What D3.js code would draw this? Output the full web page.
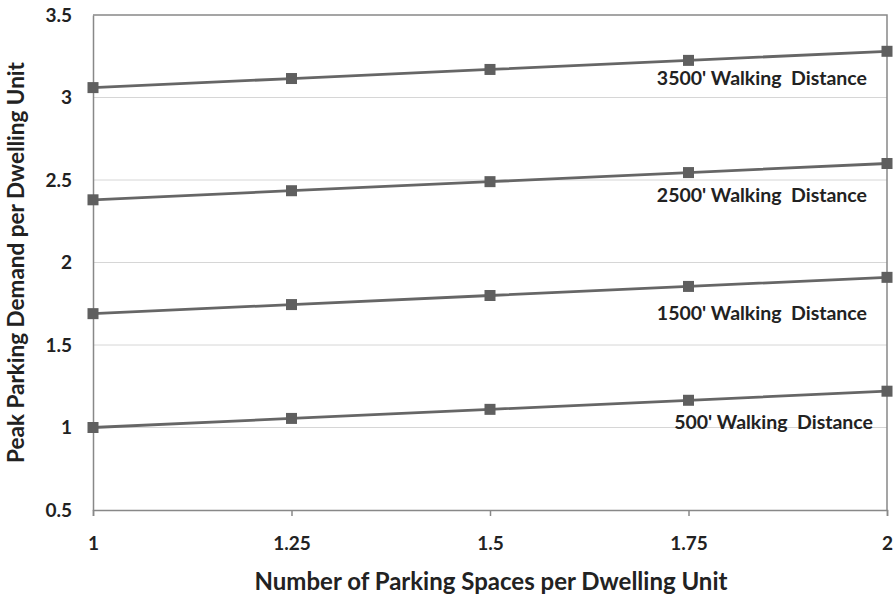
<!DOCTYPE html>
<html><head><meta charset="utf-8">
<script src="https://cdn.jsdelivr.net/npm/d3@7"></script>
<style>body{margin:0;background:#fff}svg text{font-family:Lato,"Open Sans",sans-serif;font-weight:bold;fill:#222}</style>
</head><body><svg id="c" width="896" height="597"></svg>
<script>
const xValues = [1, 1.25, 1.5, 1.75, 2];
const xTickLabels = ["1", "1.25", "1.5", "1.75", "2"];
const yTicks = [0.5, 1, 1.5, 2, 2.5, 3, 3.5];
const s3500 = [3.06, 3.115, 3.17, 3.225, 3.28];
const s2500 = [2.38, 2.435, 2.49, 2.545, 2.60];
const s1500 = [1.69, 1.745, 1.80, 1.855, 1.91];
const s500 = [1.00, 1.055, 1.11, 1.165, 1.22];
const seriesNames = ["3500' Walking  Distance", "2500' Walking  Distance", "1500' Walking  Distance", "500' Walking  Distance"];
const labelY = [3.118, 2.409, 1.694, 1.033];
const seriesData = [s3500, s2500, s1500, s500];

const svg = d3.select("#c");
const L = 93, R = 887, T = 15, B = 510;
const x = d3.scaleLinear().domain([1, 2]).range([L, R]);
const y = d3.scaleLinear().domain([0.5, 3.5]).range([B, T]);

// gridlines
svg.append("g").selectAll("line").data(yTicks.filter(d => d > 0.5 && d < 3.5)).join("line")
  .attr("x1", L).attr("x2", R).attr("y1", d => y(d)).attr("y2", d => y(d))
  .attr("stroke", "#d6d6d6").attr("stroke-width", 1);

// frame top/right
svg.append("path").attr("d", `M${L},${T}H${R}V${B}`).attr("fill", "none").attr("stroke", "#888").attr("stroke-width", 1.5);

// axes
const xAxis = d3.axisBottom(x).tickValues(xValues).tickFormat((d, i) => xTickLabels[i]).tickSize(6).tickPadding(21);
const gx = svg.append("g").attr("transform", `translate(0,${B})`).call(xAxis);
gx.select(".domain").attr("stroke", "#888").attr("stroke-width", 1.5);
gx.selectAll(".tick line").attr("stroke", "#888").attr("stroke-width", 1.5);
gx.selectAll("text").style("font-size", "19px").attr("fill", "#222");

const yAxis = d3.axisLeft(y).tickValues(yTicks).tickFormat(d => String(d)).tickSize(0).tickPadding(21);
const gy = svg.append("g").attr("transform", `translate(${L},0)`).call(yAxis);
gy.select(".domain").attr("stroke", "#888").attr("stroke-width", 1.5);
gy.selectAll("text").style("font-size", "19px").attr("fill", "#222");

// series
const line = d3.line().x((d, i) => x(xValues[i])).y(d => y(d));
seriesData.forEach((s, k) => {
  svg.append("path").datum(s).attr("d", line).attr("fill", "none").attr("stroke", "#666").attr("stroke-width", 2.8);
  svg.append("g").selectAll("rect").data(s).join("rect")
    .attr("x", (d, i) => x(xValues[i]) - 5.5).attr("y", d => y(d) - 5.5)
    .attr("width", 11).attr("height", 11).attr("fill", "#5f5f5f");
  svg.append("text").attr("x", k === 3 ? 873 : 867).attr("y", y(labelY[k]))
    .attr("dy", "0.35em").attr("text-anchor", "end").style("font-size", "19.5px")
    .style("white-space", "pre").text(seriesNames[k]);
});

// axis titles
svg.append("text").attr("x", 491).attr("y", 590).attr("text-anchor", "middle")
  .style("font-size", "24px").text("Number of Parking Spaces per Dwelling Unit");
svg.append("text").attr("transform", `translate(24,${(T + B) / 2}) rotate(-90)`).attr("text-anchor", "middle")
  .style("font-size", "22.5px").text("Peak Parking Demand per Dwelling Unit");
</script></body></html>
